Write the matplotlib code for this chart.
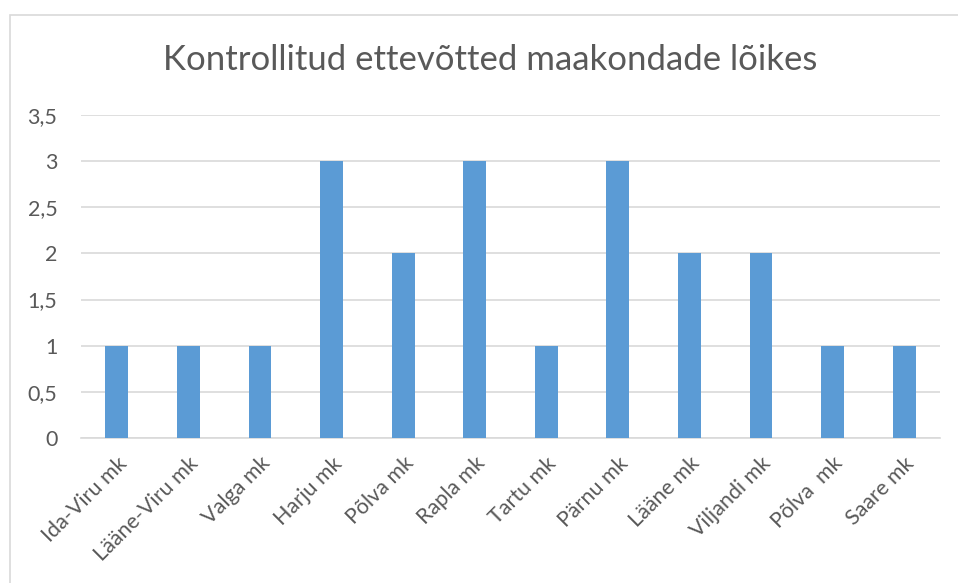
import matplotlib.pyplot as plt
from matplotlib.patches import Rectangle

# Data
counties = ["Ida-Viru mk", "Lääne-Viru mk", "Valga mk", "Harju mk", "Põlva mk",
            "Rapla mk", "Tartu mk", "Pärnu mk", "Lääne mk", "Viljandi mk",
            "Põlva  mk", "Saare mk"]
counts = [1, 1, 1, 3, 2, 3, 1, 3, 2, 2, 1, 1]
y_ticks = [0, 0.5, 1, 1.5, 2, 2.5, 3, 3.5]
y_tick_labels = ["0", "0,5", "1", "1,5", "2", "2,5", "3", "3,5"]

text_color = "#595959"
grid_color = "#D9D9D9"
bar_color = "#5B9BD5"

plt.rcParams['font.family'] = ['Lato', 'DejaVu Sans']

fig = plt.figure(figsize=(9.58, 5.83), dpi=100)
ax = fig.add_axes([81 / 958, 1 - 438 / 583, (940 - 81) / 958, (438 - 115) / 583])

# outer chart border (runs off the right and bottom edge like in the reference)
fig.patches.append(Rectangle((10 / 958, -0.05), 1.2, 1 - 15 / 583 + 0.05,
                             transform=fig.transFigure, fill=False,
                             edgecolor=grid_color, linewidth=1.2))

x = range(len(counties))
ax.bar(x, counts, width=0.32, color=bar_color, zorder=3)

ax.set_xlim(-0.5, len(counties) - 0.5)
ax.set_ylim(0, 3.5)
ax.set_yticks(y_ticks)
ax.set_yticklabels(y_tick_labels, fontsize=15.5, color=text_color)
ax.set_xticks(list(x))
ax.set_xticklabels(counties, rotation=45, ha='right', va='top', rotation_mode='anchor',
                   fontsize=15.5, color=text_color)
ax.tick_params(axis='both', length=0)
ax.tick_params(axis='y', pad=17)
ax.tick_params(axis='x', pad=11)

ax.grid(axis='y', color=grid_color, linewidth=1.2, zorder=0)
for side in ['top', 'right', 'left']:
    ax.spines[side].set_visible(False)
ax.spines['bottom'].set_color(grid_color)
ax.spines['bottom'].set_linewidth(1.2)

fig.text(490 / 958, 1 - 60 / 583, "Kontrollitud ettevõtted maakondade lõikes",
         ha='center', va='center', fontsize=25, color=text_color)

fig.savefig("out.png", dpi=100)
